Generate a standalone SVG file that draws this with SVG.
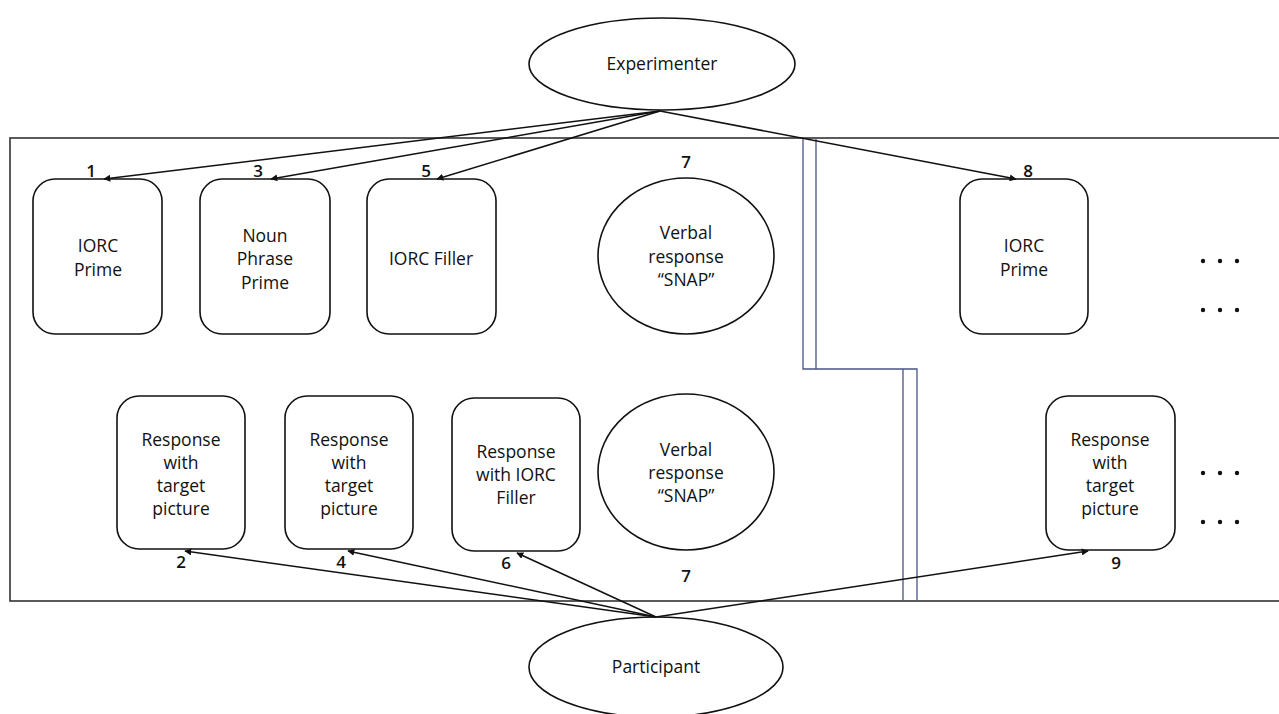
<svg xmlns="http://www.w3.org/2000/svg" width="1279" height="714" viewBox="0 0 1279 714">
<style>
.box{fill:#fff;stroke:#111;stroke-width:1.6}
.ell{fill:#fff;stroke:#111;stroke-width:1.6}
.t{font-family:"Open Sans","Liberation Sans",sans-serif;font-size:17.5px;fill:#111;text-anchor:middle}
.n{font-family:"Open Sans","Liberation Sans",sans-serif;font-size:17px;font-weight:600;fill:#111;text-anchor:middle}
.c{stroke:#111;stroke-width:1.5;fill:none;marker-end:url(#ah)}
.div{stroke:#4a5583;stroke-width:1.3;fill:none}
.dot{fill:#111}
</style>
<defs>
<marker id="ah" viewBox="0 0 10 10" refX="9" refY="5" markerWidth="7" markerHeight="7" markerUnits="userSpaceOnUse" orient="auto">
<path d="M0,0 L10,5 L0,10 z" fill="#111"/>
</marker>
</defs>
<rect id="frame" x="10" y="138" width="1280" height="463" fill="#fff" stroke="#333" stroke-width="1.6"/>
<g id="divider">
<path class="div" d="M803,139 V369 H917 V600"/>
<path class="div" d="M816,139 V369 M903,369 V600"/>
</g>
<g id="experimenter">
<ellipse class="ell" cx="662" cy="64" rx="133" ry="46"/>
<text class="t" x="662" y="70">Experimenter</text>
</g>
<g id="participant">
<ellipse class="ell" cx="656" cy="667" rx="127" ry="50"/>
<text class="t" x="656" y="673">Participant</text>
</g>
<g id="n1">
<rect class="box" x="33" y="179" width="129" height="155" rx="22"/>
<text class="t" x="98" y="252">IORC</text><text class="t" x="98" y="276">Prime</text>
<text class="n" x="91" y="177">1</text>
</g>
<g id="n3">
<rect class="box" x="200" y="179" width="130" height="155" rx="22"/>
<text class="t" x="265" y="242">Noun</text><text class="t" x="265" y="265">Phrase</text><text class="t" x="265" y="289">Prime</text>
<text class="n" x="258" y="177">3</text>
</g>
<g id="n5">
<rect class="box" x="367" y="179" width="129" height="155" rx="22"/>
<text class="t" x="431" y="265">IORC Filler</text>
<text class="n" x="426" y="177">5</text>
</g>
<g id="n7top">
<ellipse class="ell" cx="686" cy="256" rx="88" ry="78"/>
<text class="t" x="686" y="239">Verbal</text><text class="t" x="686" y="263">response</text><text class="t" x="686" y="286">“SNAP”</text>
<text class="n" x="686" y="168">7</text>
</g>
<g id="n8">
<rect class="box" x="960" y="179" width="128" height="155" rx="22"/>
<text class="t" x="1024" y="252">IORC</text><text class="t" x="1024" y="276">Prime</text>
<text class="n" x="1028" y="177">8</text>
</g>
<g id="n2">
<rect class="box" x="117" y="396" width="128" height="153" rx="22"/>
<text class="t" x="181" y="446">Response</text><text class="t" x="181" y="469">with</text><text class="t" x="181" y="492">target</text><text class="t" x="181" y="515">picture</text>
<text class="n" x="181" y="568">2</text>
</g>
<g id="n4">
<rect class="box" x="285" y="396" width="128" height="153" rx="22"/>
<text class="t" x="349" y="446">Response</text><text class="t" x="349" y="469">with</text><text class="t" x="349" y="492">target</text><text class="t" x="349" y="515">picture</text>
<text class="n" x="341" y="568">4</text>
</g>
<g id="n6">
<rect class="box" x="452" y="398" width="128" height="153" rx="22"/>
<text class="t" x="516" y="458">Response</text><text class="t" x="516" y="481">with IORC</text><text class="t" x="516" y="504">Filler</text>
<text class="n" x="506" y="569">6</text>
</g>
<g id="n7bottom">
<ellipse class="ell" cx="686" cy="472" rx="88" ry="78"/>
<text class="t" x="686" y="456">Verbal</text><text class="t" x="686" y="479">response</text><text class="t" x="686" y="502">“SNAP”</text>
<text class="n" x="686" y="582">7</text>
</g>
<g id="n9">
<rect class="box" x="1046" y="396" width="129" height="154" rx="22"/>
<text class="t" x="1110" y="446">Response</text><text class="t" x="1110" y="469">with</text><text class="t" x="1110" y="492">target</text><text class="t" x="1110" y="515">picture</text>
<text class="n" x="1116" y="569">9</text>
</g>
<g id="ellipses-more">
<circle class="dot" cx="1203" cy="261" r="2.2"/><circle class="dot" cx="1220" cy="261" r="2.2"/><circle class="dot" cx="1237" cy="261" r="2.2"/>
<circle class="dot" cx="1203" cy="310" r="2.2"/><circle class="dot" cx="1220" cy="310" r="2.2"/><circle class="dot" cx="1237" cy="310" r="2.2"/>
<circle class="dot" cx="1203" cy="473" r="2.2"/><circle class="dot" cx="1220" cy="473" r="2.2"/><circle class="dot" cx="1237" cy="473" r="2.2"/>
<circle class="dot" cx="1203" cy="522" r="2.2"/><circle class="dot" cx="1220" cy="522" r="2.2"/><circle class="dot" cx="1237" cy="522" r="2.2"/>
</g>
<g id="connectors">
<line class="c" x1="660" y1="111" x2="104" y2="179"/>
<line class="c" x1="660" y1="111" x2="271" y2="179"/>
<line class="c" x1="660" y1="111" x2="437" y2="179"/>
<line class="c" x1="660" y1="111" x2="1016" y2="179"/>
<line class="c" x1="656" y1="617" x2="185" y2="551"/>
<line class="c" x1="656" y1="617" x2="348" y2="551"/>
<line class="c" x1="656" y1="617" x2="517" y2="553"/>
<line class="c" x1="656" y1="617" x2="1088" y2="551"/>
</g>
</svg>
